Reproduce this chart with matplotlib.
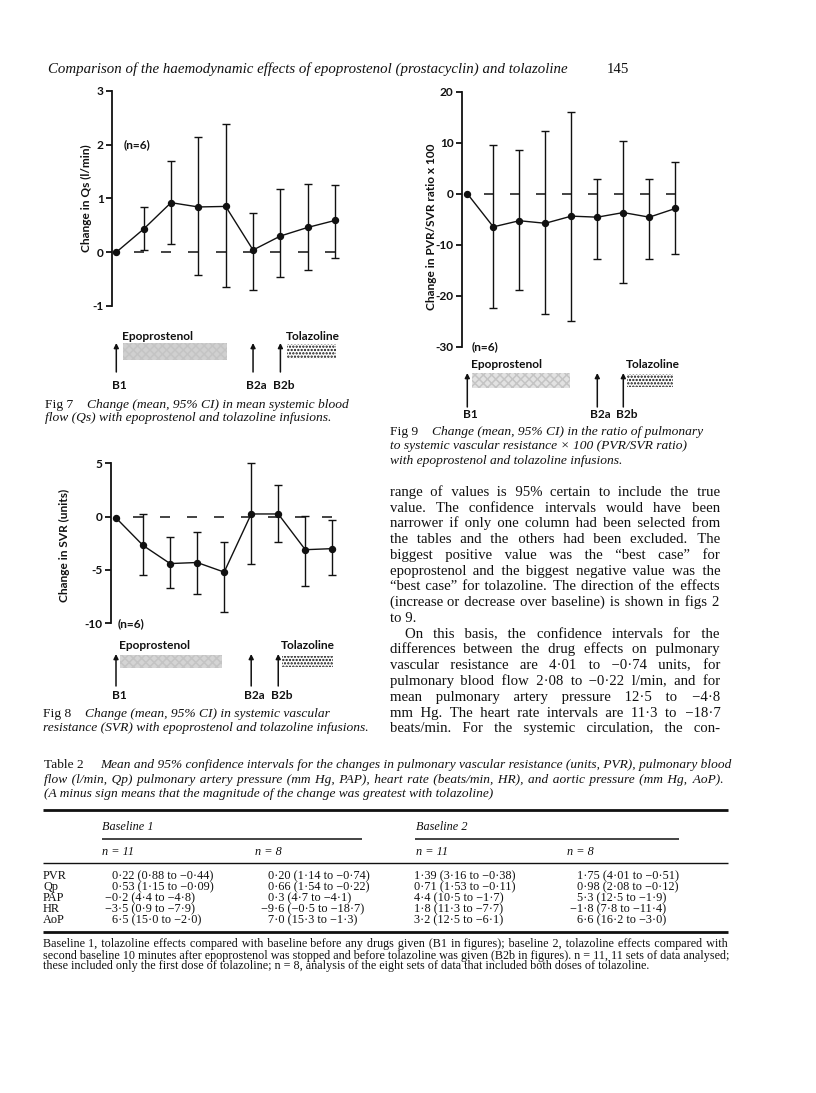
import numpy as np
import matplotlib
matplotlib.use("Agg")
import matplotlib.pyplot as plt
from matplotlib.patches import Rectangle

plt.rcParams["axes.unicode_minus"] = False
plt.rcParams["hatch.linewidth"] = 1.1

W, H = 816, 1093
INK = "#111111"
SANS = "Lato"
SERIF = ["Liberation Serif", "DejaVu Serif"]
CHART_FS = 8.6

# ---------------- chart data (mean, upper and lower 95% CI) ----------------
steps = np.arange(9)

qs_mean = [0.0, 0.43, 0.92, 0.84, 0.85, 0.04, 0.30, 0.46, 0.59]
qs_hi = [0.0, 0.84, 1.69, 2.14, 2.38, 0.73, 1.17, 1.27, 1.24]
qs_lo = [0.0, 0.04, 0.15, -0.43, -0.64, -0.70, -0.46, -0.34, -0.10]

svr_mean = [-0.12, -2.7, -4.4, -4.3, -5.2, 0.25, 0.25, -3.1, -3.0]
svr_hi = [-0.12, 0.25, -1.9, -1.4, -2.4, 5.0, 3.0, 0.06, -0.3]
svr_lo = [-0.12, -5.5, -6.7, -7.25, -8.9, -4.4, -2.4, -6.5, -5.5]

ratio_mean = [0.0, -6.5, -5.3, -5.8, -4.4, -4.6, -3.7, -4.6, -2.9]
ratio_hi = [0.0, 9.5, 8.5, 12.2, 16.1, 2.9, 10.3, 2.9, 6.2]
ratio_lo = [0.0, -22.5, -18.9, -23.5, -25.0, -12.8, -17.6, -12.8, -11.8]

# ---------------- table data: (mean, upper, lower) per column ----------------
row_names = ["PVR", "Qp", "PAP", "HR", "AoP"]
row_decimals = [2, 2, 1, 1, 1]
col_b1_n11 = [(0.22, 0.88, -0.44), (0.53, 1.15, -0.09), (-0.2, 4.4, -4.8),
              (-3.5, 0.9, -7.9), (6.5, 15.0, -2.0)]
col_b1_n8 = [(0.20, 1.14, -0.74), (0.66, 1.54, -0.22), (0.3, 4.7, -4.1),
             (-9.6, -0.5, -18.7), (7.0, 15.3, -1.3)]
col_b2_n11 = [(1.39, 3.16, -0.38), (0.71, 1.53, -0.11), (4.4, 10.5, -1.7),
              (1.8, 11.3, -7.7), (3.2, 12.5, -6.1)]
col_b2_n8 = [(1.75, 4.01, -0.51), (0.98, 2.08, -0.12), (5.3, 12.5, -1.9),
             (-1.8, 7.8, -11.4), (6.6, 16.2, -3.0)]

fig = plt.figure(figsize=(W / 100, H / 100), dpi=100)
renderer = fig.canvas.get_renderer()


def px_axes(x0, y0, x1, y1):
    return fig.add_axes([x0 / W, 1 - y1 / H, (x1 - x0) / W, (y1 - y0) / H])


def panel(spine_x, p0_x, dx, y_top, y_bot, ylim, yticks, ylabel, label_x, label_frac,
          mean, hi, lo, n_xy, tl):
    left = -(p0_x - spine_x) / dx
    ax = px_axes(spine_x, y_top, spine_x + 9.0 * dx, y_bot)
    ax.set_xlim(left, left + 9.0)
    ax.set_ylim(*ylim)
    for s in ["top", "right", "bottom"]:
        ax.spines[s].set_visible(False)
    ax.spines["left"].set_linewidth(1.3)
    ax.spines["left"].set_color(INK)
    ax.patch.set_alpha(0)
    ax.set_xticks([])
    ax.set_yticks(yticks)
    ax.set_yticklabels([str(t) for t in yticks], family=SANS, weight="bold", size=CHART_FS)
    ax.tick_params(axis="y", direction="out", length=4, width=1.3, pad=2, colors=INK)

    # short dashes marking the zero line
    xs = steps[1:]
    ax.hlines(np.zeros(len(xs)), xs - 0.37, xs, color=INK, lw=1.1)
    ax.plot(steps, mean, "-o", color=INK, lw=1.0, ms=4.3, clip_on=False, zorder=3)
    m = np.array(mean[1:])
    yerr = [m - np.array(lo[1:]), np.array(hi[1:]) - m]
    ax.errorbar(xs, m, yerr=yerr, fmt="none", ecolor=INK, elinewidth=1.0,
                capsize=3.2, capthick=1.0, clip_on=False)

    ax.set_ylabel(ylabel, family=SANS, weight="bold", size=CHART_FS, color=INK)
    ax.yaxis.set_label_coords((label_x + 5 - spine_x) / (9.0 * dx), label_frac)
    ax.text(n_xy[0], n_xy[1], "(n=6)", family=SANS, weight="bold", size=CHART_FS,
            color=INK, ha="left", va="center", clip_on=False)

    # infusion timeline below the chart
    tx = px_axes(spine_x, tl["top"], spine_x + 9.0 * dx, tl["bot"])
    tx.set_xlim(left, left + 9.0)
    tx.set_ylim(tl["bot"], tl["top"])
    tx.axis("off")
    tkw = dict(family=SANS, weight="bold", size=CHART_FS, color=INK, va="center")
    tx.text(tl["epo"][0] - 0.03, tl["text_y"], "Epoprostenol", ha="left", **tkw)
    tx.text(tl["tol"][0] - 0.03, tl["text_y"], "Tolazoline", ha="left", **tkw)
    b0, b1 = tl["bar"]
    tx.add_patch(Rectangle((tl["epo"][0], b0), tl["epo"][1] - tl["epo"][0], b1 - b0,
                           facecolor=tl["grey"], edgecolor="#c4c4c4", lw=0, hatch="xxxx"))
    tx.add_patch(Rectangle((tl["tol"][0], b0 + 1), tl["tol"][1] - tl["tol"][0], b1 - b0 - 2,
                           facecolor="white", edgecolor=INK, lw=0, hatch="....."))
    a_bot, a_top = tl["arrow"]
    for xi, lab in zip([0, 5, 6], ["B1", "B2a", "B2b"]):
        tx.annotate("", xy=(xi, a_top), xytext=(xi, a_bot),
                    arrowprops=dict(arrowstyle="-|>", lw=1.1, color=INK,
                                    mutation_scale=7, shrinkA=0, shrinkB=0))
        tx.text(xi + 0.12, tl["label_y"], lab, ha="center", **tkw)
    return ax


# Fig 7
panel(112, 116.3, 27.35, 90.7, 306, (-1, 3), [3, 2, 1, 0, -1],
      "Change in Qs (l/min)", 87, 0.5, qs_mean, qs_hi, qs_lo, (0.25, 2.0),
      dict(top=325, bot=395, text_y=336, bar=(343, 360), arrow=(372, 343),
           label_y=385, epo=(0.25, 4.05), tol=(6.24, 8.03), grey="#d0d0d0"))

# Fig 8
panel(110.7, 116, 27.04, 463.3, 623.3, (-10, 5), [5, 0, -5, -10],
      "Change in SVR (units)", 65, 0.49, svr_mean, svr_hi, svr_lo, (0.07, -10),
      dict(top=635, bot=702, text_y=645, bar=(655, 668), arrow=(686, 654),
           label_y=695, epo=(0.15, 3.92), tol=(6.14, 8.02), grey="#d4d4d4"))

# Fig 9
panel(461.7, 467.3, 26.0, 91.7, 346.7, (-30, 20), [20, 10, 0, -10, -20, -30],
      "Change in PVR/SVR ratio x 100", 432, 0.47, ratio_mean, ratio_hi, ratio_lo, (0.18, -30),
      dict(top=355, bot=422, text_y=364, bar=(373, 388), arrow=(407, 373),
           label_y=415, epo=(0.18, 3.95), tol=(6.14, 7.91), grey="#e2e2e2"))


# ---------------- page text ----------------
HAIR = "\u200a"


def width_of(s, kw):
    t = fig.text(0, 0, s, **kw)
    w = t.get_window_extent(renderer).width
    t.remove()
    return w


def line(x0, y, s, x1=None, size=9.4, style="normal"):
    kw = dict(family=SERIF, size=size, style=style, color=INK, va="baseline", ha="left")
    if x1 is not None:
        # justify by padding the word gaps with hair spaces, one text per line
        words = s.split(" ")
        gaps = len(words) - 1
        extra = x1 - x0 - width_of(s, kw)
        hw = width_of("a" + HAIR * 10 + "a", kw) - width_of("aa", kw)
        hw = hw / 10 if hw > 0 else 1.0
        n = max(int(round(extra / hw)), 0)
        out = words[0]
        for i in range(gaps):
            k = n * (i + 1) // gaps - n * i // gaps
            out += " " + HAIR * k + words[i + 1]
        s = out
    return fig.text(x0 / W, 1 - y / H, s, **kw)


def caption(x0, y0, label, lines, size=9.7, indent=42, step=13.5):
    line(x0, y0 + 4, label, size=size)
    line(x0 + indent, y0 + 4, lines[0], size=size, style="italic")
    for i, s in enumerate(lines[1:], 1):
        line(x0, y0 + 4 + i * step, s, size=size, style="italic")


line(48, 73, "Comparison of the haemodynamic effects of epoprostenol (prostacyclin) and tolazoline",
     size=10.7, style="italic")
line(607, 73, "145", size=10.7)

caption(45, 404, "Fig 7", ["Change (mean, 95% CI) in mean systemic blood",
                           "flow (Qs) with epoprostenol and tolazoline infusions."])
caption(43, 713, "Fig 8", ["Change (mean, 95% CI) in systemic vascular",
                           "resistance (SVR) with epoprostenol and tolazoline infusions."])
caption(390, 431, "Fig 9", ["Change (mean, 95% CI) in the ratio of pulmonary",
                            "to systemic vascular resistance \u00d7 100 (PVR/SVR ratio)",
                            "with epoprostenol and tolazoline infusions."], step=14.5)

body = [
    ("range of values is 95% certain to include the true", True),
    ("value. The confidence intervals would have been", True),
    ("narrower if only one column had been selected from", True),
    ("the tables and the others had been excluded. The", True),
    ("biggest positive value was the \u201cbest case\u201d for", True),
    ("epoprostenol and the biggest negative value was the", True),
    ("\u201cbest case\u201d for tolazoline. The direction of the effects", True),
    ("(increase or decrease over baseline) is shown in figs 2", True),
    ("to 9.", False),
    ("On this basis, the confidence intervals for the", True),
    ("differences between the drug effects on pulmonary", True),
    ("vascular resistance are 4\u00b701 to \u22120\u00b774 units, for", True),
    ("pulmonary blood flow 2\u00b708 to \u22120\u00b722 l/min, and for", True),
    ("mean pulmonary artery pressure 12\u00b75 to \u22124\u00b78", True),
    ("mm Hg. The heart rate intervals are 11\u00b73 to \u221218\u00b77", True),
    ("beats/min. For the systemic circulation, the con-", True),
]
for i, (s, just) in enumerate(body):
    x0 = 405 if s.startswith("On this") else 390
    line(x0, 491.5 + 15.75 * i + 4.5, s, x1=720 if just else None, size=10.6)

# Table 2 caption
CFS = 9.6
line(44, 768, "Table 2", size=CFS)
line(100, 768, "Mean and 95% confidence intervals for the changes in pulmonary vascular "
     "resistance (units, PVR), pulmonary blood", x1=728, size=CFS, style="italic")
line(44, 783, "flow (l/min, Qp) pulmonary artery pressure (mm Hg, PAP), heart rate "
     "(beats/min, HR), and aortic pressure (mm Hg, AoP).", x1=723, size=CFS, style="italic")
line(44, 797, "(A minus sign means that the magnitude of the change was greatest with tolazoline)",
     size=CFS, style="italic")

# table rules
rules = px_axes(0, 0, W, H)
rules.set_xlim(0, W)
rules.set_ylim(H, 0)
rules.axis("off")
rules.hlines([810, 932], 43, 728, color=INK, lw=2.0)
rules.hlines([839, 839], [102, 415], [362, 679], color=INK, lw=1.1)
rules.hlines([863], 43, 728, color=INK, lw=1.0)

line(102, 830, "Baseline 1", size=8.8, style="italic")
line(416, 830, "Baseline 2", size=8.8, style="italic")
for x, s in zip([102, 255, 416, 567], ["n = 11", "n = 8", "n = 11", "n = 8"]):
    line(x, 855, s, size=8.8, style="italic")


def num(v, nd):
    t = f"{abs(v):.{nd}f}".replace(".", "\u00b7")
    return ("\u2212" + t) if v < 0 else t


TFS = 8.8
mw = width_of("\u2212", dict(family=SERIF, size=TFS))

col_x = [112, 268, 414, 577]
columns = [col_b1_n11, col_b1_n8, col_b2_n11, col_b2_n8]
for r, (name, nd) in enumerate(zip(row_names, row_decimals)):
    y = 875 + 11 * r + 3.8
    line(43, y, name, size=TFS)
    for cx, col in zip(col_x, columns):
        mval, hv, lv = col[r]
        s = f"{num(mval, nd)} ({num(hv, nd)} to {num(lv, nd)})"
        line(cx - (mw if mval < 0 else 0), y, s, size=TFS)

line(43, 947.5, "Baseline 1, tolazoline effects compared with baseline before any drugs given "
     "(B1 in figures); baseline 2, tolazoline effects compared with", x1=728, size=8.7)
line(43, 958.5, "second baseline 10 minutes after epoprostenol was stopped and before tolazoline "
     "was given (B2b in figures). n\u00a0=\u00a011, 11 sets of data analysed;", x1=728, size=8.7)
line(43, 969.5, "these included only the first dose of tolazoline; n\u00a0=\u00a08, analysis of "
     "the eight sets of data that included both doses of tolazoline.", size=8.7)

fig.savefig("out.png", dpi=100, facecolor="white")
